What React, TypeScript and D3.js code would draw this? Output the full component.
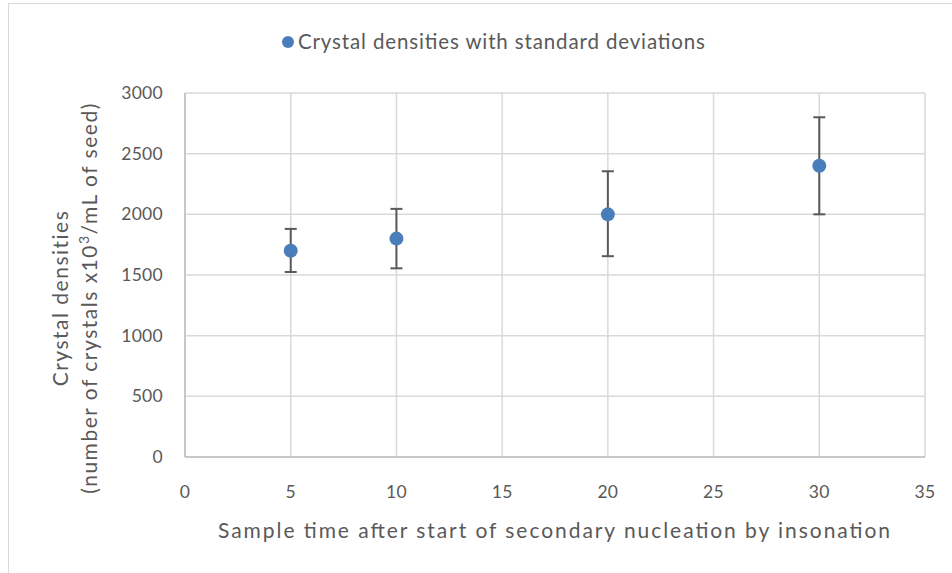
import React from "react";
import * as d3 from "d3";

const sampleTimes = [5, 10, 20, 30];
const densities = [1700, 1800, 2000, 2400];
const upperBounds = [1880, 2045, 2355, 2800];
const lowerBounds = [1525, 1555, 1655, 2000];
const xTicks = [0, 5, 10, 15, 20, 25, 30, 35];
const yTicks = [0, 500, 1000, 1500, 2000, 2500, 3000];

const W = 952;
const H = 573;
const plot = { left: 185, right: 925, top: 93, bottom: 457 };
const font = "Lato, 'Open Sans', sans-serif";
const textColor = "#595959";
const markerColor = "#4a7ebb";

export default function App() {
  const x = d3.scaleLinear().domain([0, 35]).range([plot.left, plot.right]);
  const y = d3.scaleLinear().domain([0, 3000]).range([plot.bottom, plot.top]);

  return (
    <svg
      width={W}
      height={H}
      style={{ position: "absolute", left: 0, top: 0, background: "#fff" }}
      fontFamily={font}
    >
      <rect x={8.5} y={3.5} width={W + 20} height={H + 20} fill="#fff" stroke="#d9d9d9" strokeWidth={1} />

      {/* grid */}
      {yTicks.map((t) => (
        <line key={"gy" + t} x1={plot.left} x2={plot.right} y1={y(t)} y2={y(t)} stroke="#d9d9d9" strokeWidth={1.5} />
      ))}
      {xTicks.map((t) => (
        <line key={"gx" + t} x1={x(t)} x2={x(t)} y1={plot.top} y2={plot.bottom} stroke="#d9d9d9" strokeWidth={1.5} />
      ))}
      <line x1={plot.left} x2={plot.right} y1={y(0)} y2={y(0)} stroke="#bfbfbf" strokeWidth={1.5} />
      <line x1={x(0)} x2={x(0)} y1={plot.top} y2={plot.bottom} stroke="#bfbfbf" strokeWidth={1.5} />

      {/* tick labels */}
      {yTicks.map((t) => (
        <text key={"ty" + t} x={163} y={y(t) + 6} textAnchor="end" fontSize={17.5} letterSpacing={0.3} fill={textColor}>
          {t}
        </text>
      ))}
      {xTicks.map((t) => (
        <text key={"tx" + t} x={x(t)} y={plot.bottom + 41} textAnchor="middle" fontSize={17.5} letterSpacing={0.3} fill={textColor}>
          {t}
        </text>
      ))}

      {/* error bars */}
      {sampleTimes.map((t, i) => (
        <g key={"eb" + t} stroke="#595959" strokeWidth={2}>
          <line x1={x(t)} x2={x(t)} y1={y(upperBounds[i])} y2={y(lowerBounds[i])} />
          <line x1={x(t) - 6} x2={x(t) + 6} y1={y(upperBounds[i])} y2={y(upperBounds[i])} />
          <line x1={x(t) - 6} x2={x(t) + 6} y1={y(lowerBounds[i])} y2={y(lowerBounds[i])} />
        </g>
      ))}

      {/* points */}
      {sampleTimes.map((t, i) => (
        <circle key={"pt" + t} cx={x(t)} cy={y(densities[i])} r={7} fill={markerColor} />
      ))}

      {/* legend */}
      <circle cx={288} cy={42} r={6} fill={markerColor} />
      <text x={298} y={49} fontSize={20.5} textLength={407} lengthAdjust="spacing" fill={textColor}>
        Crystal densities with standard deviations
      </text>

      {/* axis titles */}
      <text x={218} y={538} fontSize={21} textLength={672} lengthAdjust="spacing" fill={textColor}>
        Sample time after start of secondary nucleation by insonation
      </text>
      <g transform="translate(0,298) rotate(-90)">
        <text x={0} y={68} textAnchor="middle" fontSize={21} letterSpacing={1.5} fill={textColor}>
          Crystal densities
        </text>
        <text x={0} y={97} textAnchor="middle" fontSize={21} letterSpacing={1.5} fill={textColor}>
          (number of crystals x10
          <tspan dy={-8} fontSize={14}>3</tspan>
          <tspan dy={8}>/mL of seed)</tspan>
        </text>
      </g>
    </svg>
  );
}
